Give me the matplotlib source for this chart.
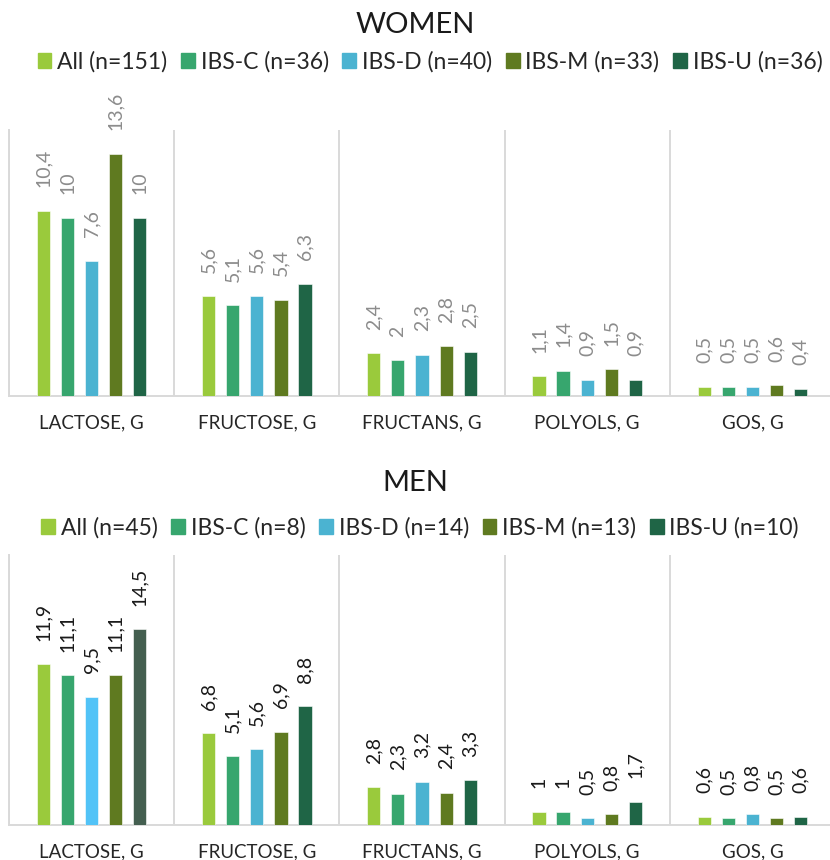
import numpy as np
import matplotlib.pyplot as plt
from matplotlib.patches import Patch

categories = ['LACTOSE, G', 'FRUCTOSE, G', 'FRUCTANS, G', 'POLYOLS, G', 'GOS, G']
groups = ['All', 'IBS-C', 'IBS-D', 'IBS-M', 'IBS-U']
colors = ['#9ACA3C', '#37A66E', '#4BB3D1', '#5F7A20', '#1F6546']

women_n = [151, 36, 40, 33, 36]
men_n = [45, 8, 14, 13, 10]

# rows = groups, columns = categories
women = np.array([
    [10.4, 5.6, 2.4, 1.1, 0.5],
    [10.0, 5.1, 2.0, 1.4, 0.5],
    [7.6, 5.6, 2.3, 0.9, 0.5],
    [13.6, 5.4, 2.8, 1.5, 0.6],
    [10.0, 6.3, 2.5, 0.9, 0.4],
])
men = np.array([
    [11.9, 6.8, 2.8, 1.0, 0.6],
    [11.1, 5.1, 2.3, 1.0, 0.5],
    [9.5, 5.6, 3.2, 0.5, 0.8],
    [11.1, 6.9, 2.4, 0.8, 0.5],
    [14.5, 8.8, 3.3, 1.7, 0.6],
])

plt.rcParams['font.family'] = ['Lato', 'DejaVu Sans']

W, H = 830, 860
fig = plt.figure(figsize=(W / 100, H / 100), dpi=100)


def fmt(v):
    s = ('%.1f' % v).rstrip('0').rstrip('.')
    return s.replace('.', ',')


def panel(rect, data, ymax, label_color, title, title_y, n, legend_y, legend_x):
    ax = fig.add_axes(rect)
    x = np.arange(len(categories)) + 0.5
    bars = []
    for i, g in enumerate(groups):
        b = ax.bar(x + (i - 2) * 0.146, data[i], width=0.08, color=colors[i],
                   edgecolor='white', linewidth=0.4, zorder=3)
        bars.append(b)
        for rect_, v in zip(b, data[i]):
            ax.annotate(fmt(v), (rect_.get_x() + rect_.get_width() / 2, v),
                        xytext=(0, 17), textcoords='offset points',
                        rotation=90, ha='center', va='bottom',
                        fontsize=14, color=label_color, annotation_clip=False)
    ax.set_xlim(0, len(categories))
    ax.set_ylim(0, ymax)
    ax.set_yticks([])
    ax.set_xticks(x)
    ax.set_xticklabels(categories, fontsize=13.5, color='#262626')
    ax.tick_params(axis='x', length=0, pad=13)
    ax.set_xticks(np.arange(len(categories) + 1), minor=True)
    ax.tick_params(axis='x', which='minor', length=0)
    ax.grid(axis='x', which='minor', color='#D9D9D9', linewidth=1.4, zorder=0)
    for s in ['top', 'right']:
        ax.spines[s].set_visible(False)
    for s in ['left', 'bottom']:
        ax.spines[s].set_color('#D9D9D9')
        ax.spines[s].set_linewidth(1.4)

    fig.text(0.5, 1 - title_y / H, title, ha='center', va='center',
             fontsize=21, color='#1a1a1a')
    handles = [Patch(color=c) for c in colors]
    labels = ['%s (n=%d)' % (g, k) for g, k in zip(groups, n)]
    fig.legend(handles, labels, loc='center', ncol=5, frameon=False,
               bbox_to_anchor=(legend_x / W, 1 - legend_y / H),
               handlelength=0.6, handleheight=0.6, handletextpad=0.25,
               columnspacing=0.6, borderaxespad=0,
               prop={'size': 16.5}, labelcolor='#262626')
    return ax, bars


panel([9 / W, 1 - 396 / H, 826 / W, 266 / H], women, 14.95, '#8C8C8C',
      'WOMEN', 25, women_n, 62, 430)
ax_m, bars_m = panel([9 / W, 1 - 825 / H, 826 / W, 270 / H], men, 20.0, '#1a1a1a',
                     'MEN', 483, men_n, 528, 420)

# two lactose bars in the men's panel carry their own shades
bars_m[2][0].set_facecolor('#52C3F7')
bars_m[4][0].set_facecolor('#445F50')

fig.savefig('out.png', dpi=100)
